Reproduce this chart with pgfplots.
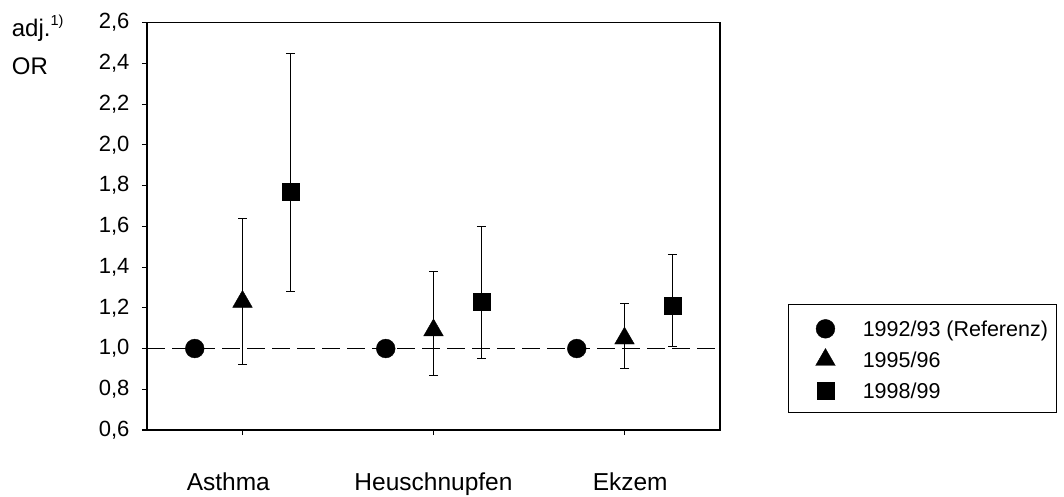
\documentclass[border=0pt]{standalone}
\usepackage{fontspec}
\setmainfont{Liberation Sans}
\usepackage{pgfplots}
\pgfplotsset{compat=1.18}
\begin{document}
\begin{tikzpicture}
\useasboundingbox (-147pt,-67pt) rectangle (917pt,430pt);
\begin{axis}[
  scale only axis, width=573pt, height=407.3pt,
  xmin=0.5, xmax=3.5, ymin=0.6, ymax=2.6,
  xtick={1,2,3},
  xticklabels={Asthma\hspace*{28.4pt}, Heuschnupfen, \hspace*{11.4pt}Ekzem},
  ytick={0.6,0.8,1.0,1.2,1.4,1.6,1.8,2.0,2.2,2.4,2.6},
  tick align=outside, major tick length=5pt,
  xtick pos=lower, ytick pos=left,
  axis line style={line width=1.1pt, black},
  tick style={line width=1.1pt, black},
  yticklabel style={font=\fontsize{22}{26}\selectfont, xshift=-9pt,
    /pgf/number format/.cd, use comma, fixed, fixed zerofill, precision=1, assume math mode=true},
  xticklabel style={font=\fontsize{24.5}{28}\selectfont, anchor=base, yshift=-55pt},
  clip=false,
  legend style={at={(1.1187,0.3094)}, anchor=north west, draw=black, line width=0.9pt,
    font=\fontsize{21.5}{25}\selectfont, inner xsep=8pt, inner ysep=3pt,
    row sep=-9pt, column sep=27.3pt,
    nodes={inner sep=0pt, text height=29.4pt, text depth=10.6pt},
    cells={anchor=base west}},
  legend image code/.code={\path[draw=none, fill=none] (-29pt,-4pt) rectangle (10pt,16pt); \draw[#1, overlay] plot coordinates {(0pt,8pt)};},
  error bars/error bar style={line width=0.9pt, black},
  error bars/error mark options={line width=0.9pt, black, mark size=4.5pt, rotate=90},
]
\addplot[forget plot, line width=1.2pt, dash pattern=on 18pt off 7pt] coordinates {(0.5,1) (3.5,1)};
\addplot[only marks, mark=*, mark size=9.4pt, mark options={fill=black, draw=black, line width=0.4pt}]
  coordinates {(0.75,1.0) (1.75,1.0) (2.75,1.0)};
\addlegendentry{1992/93 (Referenz)}
\addplot[only marks, mark=triangle*, mark size=11.3pt, mark options={fill=black, draw=black, line width=0.4pt},
  error bars/.cd, y dir=both, y explicit]
  coordinates {(1,1.23) += (0,0.41) -= (0,0.31)
               (2,1.09) += (0,0.29) -= (0,0.22)
               (3,1.05) += (0,0.17) -= (0,0.15)};
\addlegendentry{1995/96}
\addplot[only marks, mark=square*, mark size=8.5pt, mark options={fill=black, draw=black, line width=0.4pt},
  error bars/.cd, y dir=both, y explicit]
  coordinates {(1.25,1.77) += (0,0.68) -= (0,0.49)
               (2.25,1.23) += (0,0.37) -= (0,0.28)
               (3.25,1.21) += (0,0.25) -= (0,0.20)};
\addlegendentry{1998/99}
\end{axis}
\node[anchor=base west, font=\fontsize{24}{28}\selectfont, inner sep=0pt] at (-135.3pt,393.3pt) {adj.\raisebox{11.5pt}{\fontsize{14.5}{16}\selectfont 1)}};
\node[anchor=base west, font=\fontsize{24}{28}\selectfont, inner sep=0pt] at (-135.3pt,355pt) {OR};
\end{tikzpicture}
\end{document}
